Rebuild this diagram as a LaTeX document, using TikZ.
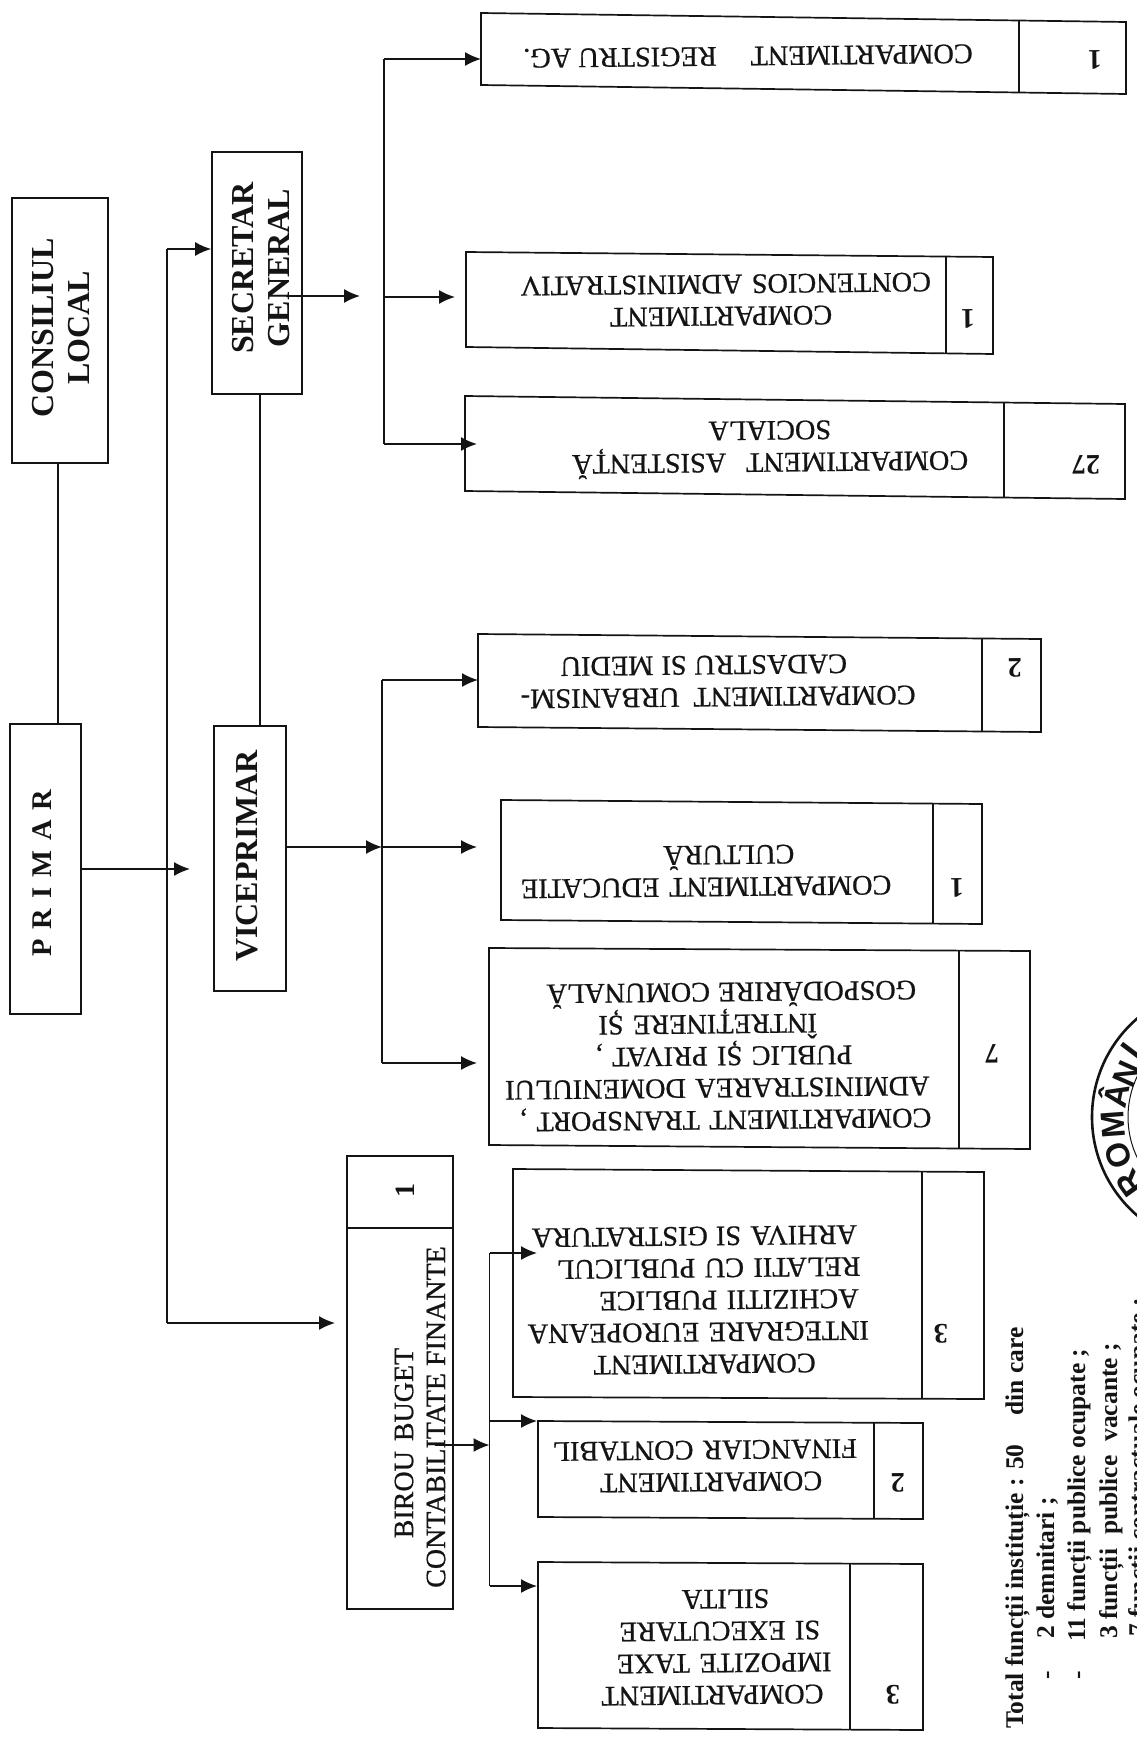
\documentclass[tikz,border=0pt]{standalone}
\usepackage{fontspec}
\setmainfont{Liberation Serif}
\newfontfamily\heavy[FakeBold=0.7]{Liberation Serif}
\newfontfamily\sealfont{Liberation Sans}
\usetikzlibrary{arrows.meta}
\definecolor{ink}{gray}{0.08}
\tikzset{
  x=1pt,y=-1pt,
  frame/.style={draw=ink,line width=1.7pt},
  wire/.style={draw=ink,line width=1.5pt},
  arrowed/.style={wire,-{Latex[length=16pt,width=14pt]}},
  uptext/.style={text=ink,font=\bfseries\fontsize{32}{36}\selectfont,rotate=90,align=center,inner sep=0pt},
  invtext/.style={text=ink,font=\heavy\fontsize{28.3}{32}\selectfont,rotate=180.6,align=center,text width=520pt,inner sep=0pt},
  numtext/.style={text=ink,font=\bfseries\fontsize{28.3}{32}\selectfont,rotate=180.6,inner sep=0pt},
  notetext/.style={text=ink,font=\bfseries\fontsize{25.5}{28}\selectfont,rotate=90,anchor=base west,inner sep=0pt},
  seal/.style={text=ink,font=\sealfont\bfseries\fontsize{33}{33}\selectfont,inner sep=0pt},
}
\newcommand{\off}[1]{\hspace*{#1pt}}
% name, x0,x1, left-top,left-bottom, right-top,right-bottom, divider x
\newcommand{\cbox}[8]{%
  \coordinate (#1-a) at (#2,#4);
  \coordinate (#1-b) at (#3,#6);
  \coordinate (#1-c) at (#3,#7);
  \coordinate (#1-d) at (#2,#5);
  \pgfmathsetmacro{\ya}{#4+(#6-#4)*(#8-#2)/(#3-#2)}
  \pgfmathsetmacro{\yb}{#5+(#7-#5)*(#8-#2)/(#3-#2)}
  \coordinate (#1-e) at (#8,\ya);
  \coordinate (#1-f) at (#8,\yb);
  \draw[frame] (#1-a) -- (#1-b) -- (#1-c) -- (#1-d) -- cycle;
  \draw[frame] (#1-e) -- (#1-f);
}
\begin{document}
\begin{tikzpicture}
\useasboundingbox (0,0) rectangle (1137,1742);
\clip (0,0) rectangle (1137,1742);

% upper-left boxes
\node[frame,minimum width=96pt,minimum height=265pt,inner sep=0pt] (consiliu) at (60,330.5) {};
\node[uptext] (consiliutext) at (61,328) {CONSILIUL\\LOCAL};
\node[frame,minimum width=90pt,minimum height=242pt,inner sep=0pt] (secretar) at (257,273) {};
\node[uptext] (secretartext) at (261,268) {SECRETAR\\GENERAL};
\node[frame,minimum width=71pt,minimum height=290pt,inner sep=0pt] (primar) at (45.5,869) {};
\node[uptext,font=\bfseries\fontsize{28.5}{34}\selectfont] (primartext) at (42,873) {P\hspace{10pt}R\hspace{10pt}I\hspace{10pt}M\hspace{10pt}A\hspace{10pt}R};
\node[frame,minimum width=72pt,minimum height=265pt,inner sep=0pt] (vice) at (250,858.5) {};
\node[uptext] (vicetext) at (247,856) {VICEPRIMAR};

% birou
\node[frame,minimum width=106pt,minimum height=453pt,inner sep=0pt] (birou) at (400,1382.5) {};
\coordinate (birou-l) at (347,1228);
\coordinate (birou-r) at (453,1228);
\draw[frame] (birou-l) -- (birou-r);
\node[uptext,font=\heavy\fontsize{28}{32}\selectfont] (biroutext) at (420,1417) {\off{-52}BIROU\hspace{10pt}BUGET\\CONTABILITATE FINANTE};
\node[uptext,font=\bfseries\fontsize{28}{32}\selectfont] (birounum) at (405,1190) {1};

% compartments
\cbox{reg}{481}{1126}{13}{85}{22}{94}{1019}
\node[numtext,font=\heavy\fontsize{28.3}{32}\selectfont] (regtext) at (748,56) {COMPARTIMENT\hspace{34pt}REGISTRU AG.};
\node[numtext] (regnum) at (1095,60) {1};

\cbox{con}{466}{993}{252}{347}{257}{354}{946}
\node[invtext] (context) at (726,300) {\off{10}COMPARTIMENT\\CONTENCIOS ADMINISTRATIV};
\node[numtext] (connum) at (968,319) {1};

\cbox{asi}{465}{1125}{396}{491}{404}{499}{1004}
\node[invtext] (asitext) at (770,449) {COMPARTIMENT\hspace{20pt}ASISTENȚĂ\\SOCIALA};
\node[numtext] (asinum) at (1086,465) {27};

\cbox{urb}{478}{1041}{634}{727}{639}{732}{982}
\node[invtext] (urbtext) at (718,681) {COMPARTIMENT\hspace{14pt}URBANISM-\\\off{28}CADASTRU\hspace{8pt}SI\hspace{8pt}MEDIU};
\node[numtext] (urbnum) at (1015,668) {2};

\cbox{edu}{501}{982}{800}{920}{804}{924}{933}
\node[invtext] (edutext) at (706,871) {COMPARTIMENT\hspace{10pt}EDUCATIE\\\off{-46}CULTURĂ};
\node[numtext] (edunum) at (957,888) {1};

\cbox{tra}{489}{1030}{948}{1145}{951}{1149}{959}
\node[invtext] (tratext) at (725,1056) {COMPARTIMENT TRANSPORT ,\\\off{16}ADMINISTRAREA DOMENIULUI\\\off{2}PUBLIC ȘI PRIVAT ,\\\off{34}ÎNTREȚINERE ȘI\\\off{-14}GOSPODĂRIRE\hspace{8pt}COMUNALĂ};
\node[numtext] (tranum) at (992,1054) {7};

\cbox{int}{513}{984}{1169}{1397}{1172}{1399}{922}
\node[invtext] (inttext) at (704,1300) {COMPARTIMENT\\\off{12}INTEGRARE EUROPEANA\\\off{-50}ACHIZITII PUBLICE\\\off{-10}RELATII CU PUBLICUL\\\off{18}ARHIVA SI\hspace{8pt}GISTRATURA};
\node[numtext] (intnum) at (941,1334) {3};

\cbox{fin}{538}{923}{1421}{1517}{1423}{1519}{874}
\node[invtext] (fintext) at (705,1466) {\off{-12}COMPARTIMENT\\FINANCIAR CONTABIL};
\node[numtext] (finnum) at (898,1483) {2};

\cbox{imp}{538}{923}{1562}{1728}{1564}{1730}{850}
\node[invtext] (imptext) at (720,1647) {\off{16}COMPARTIMENT\\\off{-8}IMPOZITE TAXE\\SI EXECUTARE\\\off{-12}SILITA};
\node[numtext] (impnum) at (893,1695) {3};

% plain connectors
\draw[wire] ([xshift=-2pt]consiliu.south) -- ([xshift=-2pt]consiliu.south |- primar.north);
\draw[wire] ([xshift=3pt]secretar.south) -- ([xshift=3pt]secretar.south |- vice.north);

% primar bus
\coordinate (pb-top) at (167,249);
\coordinate (pb-bot) at (167,1323);
\coordinate (pb-tip) at (190,869);
\draw[arrowed] (pb-top) -- (secretar.west |- pb-top);
\draw[wire] (pb-top) -- (pb-bot);
\coordinate (birou-in) at (335,1323);
\draw[arrowed] (pb-bot) -- (birou-in);
\draw[arrowed] (primar.east |- pb-tip) -- (pb-tip);

% secretar bus
\coordinate (sb-top) at (384,59);
\coordinate (sb-mid) at (384,297);
\coordinate (sb-bot) at (384,444);
\coordinate (sb-start) at (286,296);
\coordinate (sb-tip) at (360,296);
\coordinate (con-in) at (455,297);
\draw[arrowed] (sb-start) -- (sb-tip);
\draw[wire] (sb-top) -- (sb-bot);
\draw[arrowed] (sb-top) -- (481,59);
\draw[arrowed] (sb-mid) -- (con-in);
\draw[arrowed] (sb-bot) -- (477,444);

% viceprimar bus
\coordinate (vb-top) at (382,680);
\coordinate (vb-mid) at (382,847);
\coordinate (vb-bot) at (382,1063);
\draw[wire] (vb-top) -- (vb-bot);
\draw[arrowed] (vice.east |- vb-mid) -- (vb-mid);
\draw[arrowed] (vb-top) -- (478,680);
\draw[arrowed] (vb-mid) -- (477,847);
\draw[arrowed] (vb-bot) -- (477,1063);

% birou bus
\coordinate (bb-top) at (489.5,1253);
\coordinate (bb-mid) at (489.5,1445);
\coordinate (bb-a) at (489.5,1421);
\coordinate (bb-bot) at (489.5,1586);
\coordinate (bb-start) at (435,1445);
\draw[wire] (bb-top) -- (bb-bot);
\draw[arrowed] (bb-start) -- (bb-mid);
\draw[arrowed] (bb-top) -- (537,1253);
\draw[arrowed] (bb-a) -- (537,1421);
\draw[arrowed] (bb-bot) -- (537,1586);

% notes
\node[notetext] (n1) at (1023,1729) {Total funcții instituție : 50\hspace{29pt}din care};
\node[notetext] (n2d) at (1054,1680) {-};
\node[notetext] (n2) at (1054,1639) {2 demnitari ;};
\node[notetext] (n3d) at (1085,1680) {-};
\node[notetext] (n3) at (1085,1642) {11 funcții publice ocupate ;};
\node[notetext] (n4) at (1117,1639) {3 funcții\hspace{14pt}publice\hspace{14pt}vacante ;};
\node[notetext] (n5) at (1146,1637) {7 funcții contractuale ocupate ;};

% seal
\coordinate (sealc) at (1222,1117);
\draw[draw=ink,line width=2.6pt] (sealc) circle[radius=130];
\draw[draw=ink,line width=1pt] (sealc) circle[radius=94];
\node[seal,rotate=125.6] (s1) at (1130,1183) {R};
\node[seal,rotate=110.3] (s2) at (1118,1155.5) {O};
\node[seal,rotate=94.2] (s3) at (1113,1125) {M};
\node[seal,rotate=78.5] (s4) at (1113,1095) {Â};
\node[seal,rotate=66] (s5) at (1127,1074) {N};
\node[seal,rotate=53] (s6) at (1131,1051) {I};
\end{tikzpicture}
\end{document}
